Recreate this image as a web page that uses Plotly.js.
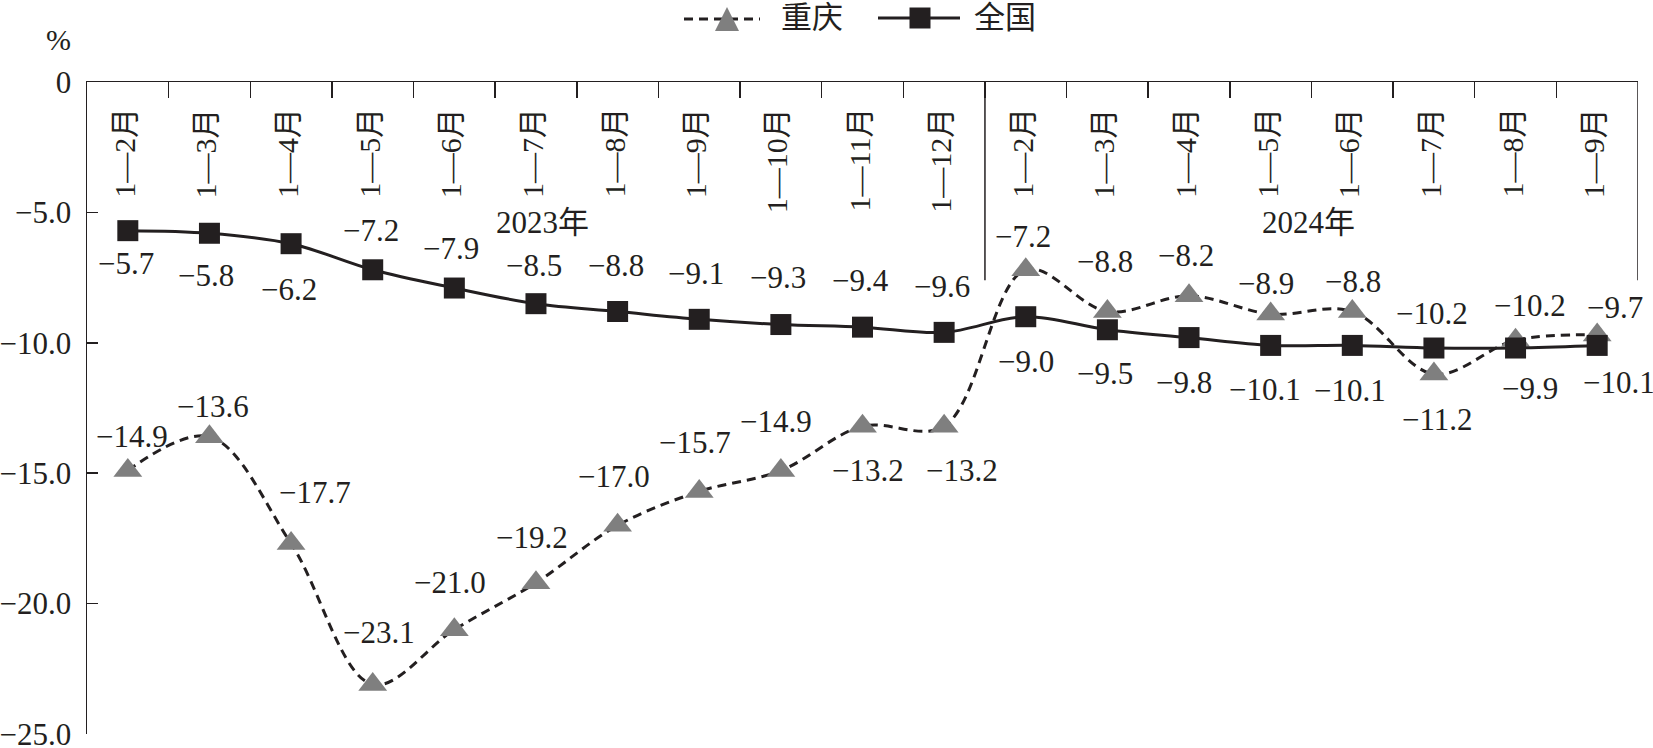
<!DOCTYPE html>
<html>
<head>
<meta charset="utf-8">
<script src="https://cdn.plot.ly/plotly-3.0.1.min.js"></script>
<style>
html,body{margin:0;padding:0;overflow:hidden;background:#fff;}
#chart{width:1653px;height:748px;}
</style>
</head>
<body>
<div id="chart"></div>
<script>
// ---------- data ----------
const cats2023 = ["1—2月","1—3月","1—4月","1—5月","1—6月","1—7月","1—8月","1—9月","1—10月","1—11月","1—12月"];
const cats2024 = ["1—2月","1—3月","1—4月","1—5月","1—6月","1—7月","1—8月","1—9月"];
const yearLabels = ["2023年","2024年"];
const seriesNames = ["重庆","全国"];
const chongqing = [-14.9,-13.6,-17.7,-23.1,-21.0,-19.2,-17.0,-15.7,-14.9,-13.2,-13.2,-7.2,-8.8,-8.2,-8.9,-8.8,-11.2,-9.9,-9.7];
const national  = [-5.7,-5.8,-6.2,-7.2,-7.9,-8.5,-8.8,-9.1,-9.3,-9.4,-9.6,-9.0,-9.5,-9.8,-10.1,-10.1,-10.2,-10.2,-10.1];
const yTickVals = [0,-5,-10,-15,-20,-25];
const yTickText = ["0","−5.0","−10.0","−15.0","−20.0","−25.0"];
const unitLabel = "%";

// ---------- label placement (pixel offsets: [xshift, yshift]) ----------
const cqLabelShift = [[4,34],[4,30],[24,51],[6,52],[-4,47],[-4,45],[-4,49],[-4,49],[-5,49],[5,-44],[18,-44],
                      [-3,33],[-2,50],[-3,40],[-5,31],[1,30],[4,-45],[14,-48],[18,27]];
const natLabelShift = [[-2,-33],[-3,-42],[-2,-46],[-2,39],[-3,40],[-2,38],[-2,46],[-3,46],[-3,47],[-2,47],[-2,46],
                       [0,-45],[-2,-44],[-5,-45],[-6,-44],[-2,-45],[-2,35],[14,43],[22,-37]];

// ---------- layout constants ----------
const W = 1653, H = 748;
const M = {l: 87, r: 15, t: 82, b: 14};
const plotW = W - M.l - M.r, plotH = H - M.t - M.b;
const pxX = px => (px - M.l) / plotW;
const pxY = py => 1 - (py - M.t) / plotH;
const FONT = "Liberation Serif, Noto Sans CJK SC, serif";
const INK = "#231f20";
const GRAY = "#7f7f7f";
const sepBottom = -7.6;

const categories = cats2023.concat(cats2024);
const xIdx = categories.map((c, i) => i);
const fmt = v => (v < 0 ? "−" : "") + Math.abs(v).toFixed(1);

const traces = [
  {
    x: xIdx, y: chongqing, name: seriesNames[0], type: "scatter", mode: "lines+markers",
    line: {color: INK, width: 3, dash: "9px,6px", shape: "spline", smoothing: 1},
    marker: {symbol: "triangle-up", size: 25, color: GRAY},
    showlegend: false, hoverinfo: "skip"
  },
  {
    x: xIdx, y: national, name: seriesNames[1], type: "scatter", mode: "lines+markers",
    line: {color: INK, width: 3, shape: "spline", smoothing: 1},
    marker: {symbol: "square", size: 21, color: INK},
    showlegend: false, hoverinfo: "skip"
  }
];

const annotations = [];
chongqing.forEach((v, i) => annotations.push({
  x: i, y: v, xref: "x", yref: "y", text: fmt(v), showarrow: false,
  xanchor: "center", yanchor: "middle",
  xshift: cqLabelShift[i][0], yshift: cqLabelShift[i][1],
  font: {family: FONT, size: 31, color: INK}
}));
national.forEach((v, i) => annotations.push({
  x: i, y: v, xref: "x", yref: "y", text: fmt(v), showarrow: false,
  xanchor: "center", yanchor: "middle",
  xshift: natLabelShift[i][0], yshift: natLabelShift[i][1],
  font: {family: FONT, size: 31, color: INK}
}));
categories.forEach((c, i) => annotations.push({
  x: i, y: 1, xref: "x", yref: "paper", text: c, showarrow: false,
  textangle: -90, xanchor: "center", yanchor: "top", xshift: -4, yshift: -24,
  font: {family: FONT, size: 30, color: INK}
}));
annotations.push({x: 5.08, y: -5.37, xref: "x", yref: "y", text: yearLabels[0], showarrow: false,
  xanchor: "center", yanchor: "middle", font: {family: FONT, size: 31, color: INK}});
annotations.push({x: 14.46, y: -5.37, xref: "x", yref: "y", text: yearLabels[1], showarrow: false,
  xanchor: "center", yanchor: "middle", font: {family: FONT, size: 31, color: INK}});
annotations.push({x: pxX(58), y: pxY(40), xref: "paper", yref: "paper", text: unitLabel, showarrow: false,
  xanchor: "center", yanchor: "middle", font: {family: FONT, size: 30, color: INK}});
annotations.push({x: pxX(812), y: pxY(18), xref: "paper", yref: "paper", text: seriesNames[0], showarrow: false,
  xanchor: "center", yanchor: "middle", font: {family: FONT, size: 31, color: INK}});
annotations.push({x: pxX(1005), y: pxY(18), xref: "paper", yref: "paper", text: seriesNames[1], showarrow: false,
  xanchor: "center", yanchor: "middle", font: {family: FONT, size: 31, color: INK}});

const shapes = [
  {type: "line", xref: "x", yref: "y", x0: cats2023.length - 0.5, x1: cats2023.length - 0.5, y0: 0, y1: sepBottom,
   line: {color: INK, width: 1.5}},
  {type: "line", xref: "x", yref: "y", x0: categories.length - 0.5, x1: categories.length - 0.5, y0: 0, y1: sepBottom,
   line: {color: INK, width: 1.5}},
  {type: "line", xref: "paper", yref: "paper", x0: pxX(684), x1: pxX(760), y0: pxY(19), y1: pxY(19),
   line: {color: INK, width: 3, dash: "9px,6px"}},
  {type: "path", xref: "paper", yref: "paper", xsizemode: "pixel", ysizemode: "pixel",
   xanchor: pxX(727), yanchor: pxY(19), path: "M-12,-12 L12,-12 L0,12 Z",
   fillcolor: GRAY, line: {width: 0}},
  {type: "line", xref: "paper", yref: "paper", x0: pxX(878), x1: pxX(960), y0: pxY(18), y1: pxY(18),
   line: {color: INK, width: 3}},
  {type: "path", xref: "paper", yref: "paper", xsizemode: "pixel", ysizemode: "pixel",
   xanchor: pxX(920), yanchor: pxY(18), path: "M-10.5,-10.5 L10.5,-10.5 L10.5,10.5 L-10.5,10.5 Z",
   fillcolor: INK, line: {width: 0}}
];

const boundaries = categories.slice(1).map((c, i) => i + 0.5);

const layout = {
  width: W, height: H,
  margin: M,
  paper_bgcolor: "#fff", plot_bgcolor: "#fff",
  showlegend: false,
  font: {family: FONT, color: INK},
  xaxis: {
    range: [-0.5, categories.length - 0.5], side: "top",
    showline: true, linecolor: INK, linewidth: 1.5,
    ticks: "inside", ticklen: 16, tickwidth: 1.5, tickcolor: INK,
    tickvals: boundaries, showticklabels: false,
    showgrid: false, zeroline: false, fixedrange: true
  },
  yaxis: {
    range: [-25, 0],
    showline: true, linecolor: INK, linewidth: 1.5,
    ticks: "inside", ticklen: 11, tickwidth: 1.5, tickcolor: INK,
    tickvals: yTickVals, ticktext: yTickText, ticklabelstandoff: 8,
    ticklabeloverflow: "allow",
    tickfont: {family: FONT, size: 31, color: INK},
    showgrid: false, zeroline: false, fixedrange: true
  },
  annotations: annotations,
  shapes: shapes
};

Plotly.newPlot("chart", traces, layout, {staticPlot: true, displayModeBar: false});
</script>
</body>
</html>
